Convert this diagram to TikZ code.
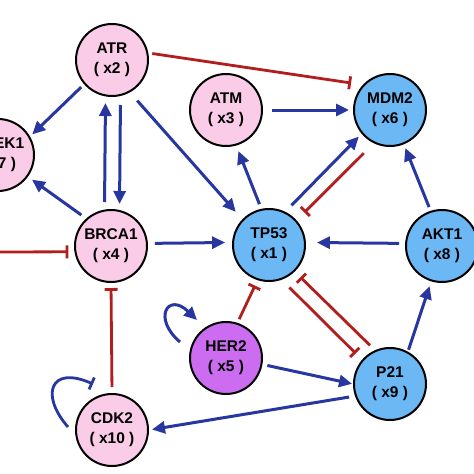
\documentclass[tikz,border=0pt]{standalone}
\usepackage{fontspec}
\setmainfont{Liberation Sans}
\usetikzlibrary{arrows.meta,calc}
\definecolor{pinkc}{RGB}{250,204,232}
\definecolor{bluec}{RGB}{108,184,245}
\definecolor{purplec}{RGB}{204,108,240}
\definecolor{actc}{RGB}{40,55,160}
\definecolor{inhc}{RGB}{178,30,30}
\tikzset{
 gene/.style={circle, draw=black, line width=2pt, minimum size=72pt, inner sep=0pt,
   font=\bfseries\fontsize{15.5}{20}\selectfont, align=center},
 pinkn/.style={gene, fill=pinkc},
 bluen/.style={gene, fill=bluec},
 purplen/.style={gene, fill=purplec},
 act/.style={draw=actc, line width=3pt, -{Triangle[length=13pt,width=12pt]}},
 inh/.style={draw=inhc, line width=2.8pt, -{Bar[width=13pt]}},
}
\begin{document}
\begin{tikzpicture}[x=1pt,y=-1pt]
\useasboundingbox (0,0) rectangle (474,474);
\clip (0,0) rectangle (474,474);
\node[pinkn] (atr) at (112,60) {ATR\\( x2 )};
\node[pinkn] (chek) at (-2,155) {CHEK1\\( x7 )};
\node[pinkn] (atm) at (226,110) {ATM\\( x3 )};
\node[bluen] (mdm) at (390,110) {MDM2\\( x6 )};
\node[pinkn] (brca) at (111,246) {BRCA1\\( x4 )};
\node[bluen] (tp) at (269,245) {TP53\\( x1 )};
\node[bluen] (akt) at (442,246) {AKT1\\( x8 )};
\node[purplen] (her) at (226,358) {HER2\\( x5 )};
\node[bluen] (p21) at (390,384) {P21\\( x9 )};
\node[pinkn] (cdk) at (112,430) {CDK2\\( x10 )};
\coordinate (lft) at (-5,252);
% activations
\draw[act, shorten <=4pt, shorten >=3pt] (atr.221) -- (chek.30);
\draw[act, shorten <=6pt, shorten >=5pt] (brca.132) -- (chek.324);
\draw[act, shorten <=7pt, shorten >=6pt] ([xshift=-6.5pt]brca.north) -- ([xshift=-6.5pt]atr.south);
\draw[act, shorten <=8pt, shorten >=5pt] ([xshift=8.5pt]atr.south) -- ([xshift=8.5pt]brca.north);
\draw[act, shorten <=11pt, shorten >=10pt] (atr.299) -- (tp.136);
\draw[act, shorten <=9pt, shorten >=4pt] (atm.east) -- (mdm.west);
\draw[act, shorten <=5pt, shorten >=6pt] (tp.102) -- (atm.286);
\draw[act, shorten <=9pt, shorten >=4pt] (tp.64) -- (mdm.220);
\draw[act, shorten <=4pt, shorten >=4pt] (akt.108) -- (mdm.292);
\draw[act, shorten <=6pt, shorten >=11pt] (akt.176) -- (tp.4);
\draw[act, shorten <=7pt, shorten >=7pt] (brca.4) -- (tp.176);
\draw[act, shorten <=5pt, shorten >=1pt] (her.350) -- (p21.180);
\draw[act, shorten <=2pt, shorten >=5pt] (p21.61) -- (akt.253);
\draw[act, shorten <=6pt, shorten >=3pt] (p21.199) -- (cdk.east);
\draw[act] ($(her)+(-46,-16)$) .. controls ($(her)+(-74,-40)$) and ($(her)+(-58,-66)$) .. ($(her)+(-29,-38)$);
% inhibitions
\draw[inh, shorten <=4pt, shorten >=12pt] (atr.11) -- (mdm.137);
\draw[inh, shorten <=14pt, shorten >=11pt] (mdm.244) -- (tp.42);
\draw[inh, shorten >=6pt] (lft) -- (brca.189);
\draw[inh, shorten <=6pt, shorten >=5pt] (cdk.north) -- (brca.south);
\draw[inh, shorten <=4pt, shorten >=6pt] (her.72) -- (tp.252);
\draw[inh, shorten <=11pt, shorten >=9pt] (tp.290) -- (p21.139);
\draw[inh, shorten <=7pt, shorten >=8pt] (p21.114) -- (tp.314);
\draw[inh, draw=actc] ($(cdk)+(-44,-3)$) .. controls ($(cdk)+(-72,-35)$) and ($(cdk)+(-62,-65)$) .. ($(cdk)+(-19,-46)$);
\end{tikzpicture}
\end{document}
